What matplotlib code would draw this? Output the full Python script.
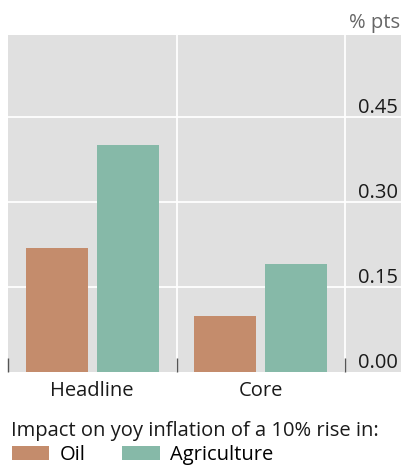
import matplotlib
matplotlib.use("Agg")
import matplotlib.pyplot as plt
from matplotlib.patches import Patch

categories = ["Headline", "Core"]
series_names = ["Oil", "Agriculture"]
oil = [0.219, 0.099]
agriculture = [0.400, 0.190]
yticks = [0.00, 0.15, 0.30, 0.45]
ytick_labels = ["0.00", "0.15", "0.30", "0.45"]
unit_label = "% pts"
legend_title = "Impact on yoy inflation of a 10% rise in:"

c_oil = "#C48C6C"
c_agri = "#86B9A8"
bg = "#E0E0E0"

plt.rcParams['font.family'] = ['Open Sans', 'DejaVu Sans']
FS = 14.5

W, H = 403, 467
fig = plt.figure(figsize=(W/100, H/100), dpi=100)
# axes in pixels: x 8..401, y 35..372
ax = fig.add_axes([8/W, 1-372/H, (401-8)/W, (372-35)/H])
ax.set_facecolor(bg)
unit = 168.5
ax.set_xlim(0, 393/unit)
ax.set_ylim(0, 337/566.7)

bw = 62/unit
off = 0.2105
xs = [0.5 + i for i in range(len(categories))]
ax.bar([x - off for x in xs], oil, width=bw, color=c_oil, zorder=3)
ax.bar([x + off for x in xs], agriculture, width=bw, color=c_agri, zorder=3)

for y in yticks[1:]:
    ax.axhline(y, color="white", lw=1.3, zorder=1)
for x in [1, 2]:
    ax.axvline(x, color="white", lw=1.3, zorder=1)

for sp in ax.spines.values():
    sp.set_visible(False)

ax.set_yticks([])
ax.set_xticks([0, 1, 2])
ax.set_xticklabels([])
ax.tick_params(axis='x', direction='in', length=10, width=1, color="#555555", pad=0)

for y, lab in zip(yticks, ytick_labels):
    ax.text(393/unit - 3/unit, y - 0.002, lab, ha='right', va='bottom', fontsize=FS, color="#1a1a1a", zorder=4)

for x, lab in zip(xs, categories):
    ax.text(x, -0.015, lab, ha='center', va='top', fontsize=FS, color="#1a1a1a", transform=ax.transData)

fig.text(400/W, 1-23/H, unit_label, ha='right', va='center', fontsize=FS, color="#666666")

fig.text(11/W, 1-431/H, legend_title, ha='left', va='center', fontsize=FS, color="#1a1a1a")

handles = [Patch(facecolor=c_oil, label=series_names[0]), Patch(facecolor=c_agri, label=series_names[1])]
fig.legend(handles=handles, loc='upper left', bbox_to_anchor=(12/W, 1-445/H), ncol=2, frameon=False,
           fontsize=FS, handlelength=1.85, handleheight=0.7, handletextpad=0.5, columnspacing=1.85,
           borderpad=0, borderaxespad=0)

fig.savefig("out.png", dpi=100)
